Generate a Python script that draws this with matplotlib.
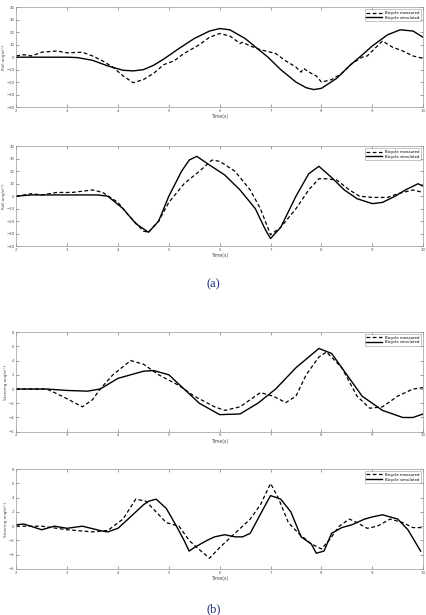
import numpy as np
import matplotlib.pyplot as plt

# (a) roll angle, first run
t1_sim = [2, 2.5, 3.0, 3.2, 3.5, 3.8, 4.1, 4.3, 4.5, 4.7, 4.9, 5.2, 5.5, 5.8, 6.0, 6.2, 6.5, 6.8, 6.95, 7.2, 7.5, 7.7, 7.85, 8.0, 8.3, 8.55, 8.75, 9.0, 9.3, 9.55, 9.8, 10]
r1_sim = [0, 0, 0, -0.3, -2.5, -7, -10.5, -11, -10, -6.5, -1.5, 7, 15, 21, 23, 22, 15, 5, 0, -10, -20, -24.5, -26, -25, -17, -7, 0, 9, 18, 22, 21, 16]
t1_mea = [2, 2.15, 2.3, 2.5, 2.8, 3.0, 3.3, 3.5, 3.7, 3.9, 4.1, 4.3, 4.5, 4.7, 4.9, 5.1, 5.3, 5.6, 5.8, 6.0, 6.2, 6.4, 6.45, 6.6, 6.8, 7.0, 7.1, 7.3, 7.5, 7.6, 7.65, 7.8, 7.9, 8.0, 8.2, 8.4, 8.6, 8.8, 8.9, 9.0, 9.2, 9.4, 9.6, 9.8, 10]
r1_mea = [1, 2, 1, 4, 5, 3.5, 4, 1, -3, -8, -15, -20.5, -18, -13, -6, -3, 3, 10, 16, 19, 17, 11, 12, 9, 6, 4, 3, -3, -8, -12, -9, -13, -15, -20, -18, -13, -5, 0, 1, 5, 13, 8, 5, 1, -1]

# (a) roll angle, second run
t2_sim = [2, 2.3, 3.0, 3.6, 3.8, 4.1, 4.35, 4.6, 4.8, 5.0, 5.25, 5.4, 5.55, 5.8, 6.1, 6.4, 6.7, 6.9, 7.0, 7.2, 7.5, 7.75, 7.95, 8.2, 8.45, 8.7, 9.0, 9.2, 9.45, 9.65, 9.9, 10]
r2_sim = [0, 1, 1, 1, 0, -10, -22, -29, -20, 0, 20, 29, 32, 25, 17, 5, -10, -27, -34, -25, 0, 18, 24, 15, 5, -2, -6, -5, 0, 5, 10, 8]
t2_mea = [2, 2.3, 2.5, 2.8, 3.1, 3.5, 3.7, 4.0, 4.2, 4.5, 4.6, 4.8, 5.0, 5.3, 5.6, 5.85, 6.0, 6.3, 6.6, 6.8, 7.0, 7.2, 7.5, 7.75, 7.95, 8.1, 8.3, 8.55, 8.75, 9.0, 9.3, 9.5, 9.8, 10]
r2_mea = [0, 2, 1, 3, 3, 5, 3, -5, -15, -28, -29, -20, -5, 10, 20, 29, 28, 20, 5, -10, -31, -25, -10, 5, 14, 14, 13, 5, 0, -1, -1, 2, 5, 3]

# (b) steering angle, first run
t3_sim = [2, 2.6, 3.0, 3.4, 3.65, 4.0, 4.5, 4.7, 5.0, 5.3, 5.6, 6.0, 6.4, 6.75, 7.1, 7.5, 7.95, 8.2, 8.5, 8.8, 9.2, 9.6, 9.8, 10]
s3_sim = [0, 0, -0.2, -0.3, 0, 1.5, 2.5, 2.6, 2, 0, -2, -3.6, -3.5, -2, 0, 3, 5.7, 5, 2, -1, -3, -4, -4, -3.5]
t3_mea = [2, 2.6, 2.9, 3.3, 3.5, 3.65, 3.9, 4.25, 4.5, 4.8, 5.2, 5.5, 5.9, 6.1, 6.4, 6.8, 7.05, 7.3, 7.5, 7.7, 7.95, 8.1, 8.4, 8.7, 8.95, 9.2, 9.5, 9.8, 10]
s3_mea = [0, 0, -1, -2.5, -1.5, 0, 2, 4, 3.5, 2, 0.5, -1, -2.5, -3, -2.5, -0.5, -1, -1.9, -1, 2, 4.5, 5.2, 3, -1, -2.7, -2.5, -1, 0, 0.2]

# (b) steering angle, second run
t4_sim = [2, 2.15, 2.5, 2.75, 3.0, 3.3, 3.7, 3.8, 4.0, 4.2, 4.5, 4.6, 4.75, 4.95, 5.15, 5.3, 5.4, 5.5, 5.75, 5.9, 6.1, 6.3, 6.45, 6.6, 6.75, 6.9, 7.0, 7.2, 7.4, 7.6, 7.8, 7.9, 8.05, 8.2, 8.4, 8.6, 8.85, 9.0, 9.2, 9.5, 9.7, 9.95]
s4_sim = [0.2, 0.3, -0.5, 0, -0.3, 0, -0.7, -0.8, -0.3, 1, 3, 3.5, 3.8, 2.5, 0, -2, -3.5, -3, -2, -1.5, -1.2, -1.5, -1.5, -1, 1, 3, 4.3, 3.8, 2, -1.5, -2.5, -3.8, -3.5, -1, -0.2, 0.2, 1, 1.3, 1.6, 1, -0.5, -3.5]
t4_mea = [2, 2.5, 3.0, 3.5, 3.8, 4.1, 4.35, 4.55, 4.75, 4.95, 5.2, 5.4, 5.55, 5.8, 6.0, 6.3, 6.6, 6.8, 7.0, 7.15, 7.35, 7.55, 7.8, 8.0, 8.15, 8.35, 8.55, 8.7, 8.9, 9.1, 9.35, 9.6, 9.8, 10]
s4_mea = [0, 0, -0.5, -0.8, -0.6, 1, 3.8, 3.5, 2, 0.5, 0, -2, -3, -4.5, -3, -1, 1, 3, 6, 4, 0.5, -1, -2.5, -3.2, -2, 0, 1, 0.5, -0.3, 0, 1, 0.5, -0.2, -0.2]

panels = [
    (t1_mea, r1_mea, t1_sim, r1_sim, "Roll angle(°)", (-40, 40), np.arange(-40, 41, 10)),
    (t2_mea, r2_mea, t2_sim, r2_sim, "Roll angle(°)", (-40, 40), np.arange(-40, 41, 10)),
    (t3_mea, s3_mea, t3_sim, s3_sim, "Steering angle(°)", (-6, 8), np.arange(-6, 9, 2)),
    (t4_mea, s4_mea, t4_sim, s4_sim, "Steering angle(°)", (-6, 8), np.arange(-6, 9, 2)),
]
bottoms = [0.826, 0.600, 0.298, 0.075]
legend_names = [("Bicycle measured", "Bicycle simulated")] * 4

fig = plt.figure(figsize=(4.27, 6.15), dpi=100)
for (tm, ym, ts, ys, ylab, ylim, yt), b, names in zip(panels, bottoms, legend_names):
    ax = fig.add_axes([0.038, b, 0.953, 0.162])
    ax.plot(tm, ym, color="k", ls=(0, (3, 2)), lw=0.9, label=names[0])
    ax.plot(ts, ys, color="k", ls="-", lw=1.0, label=names[1])
    ax.set_xlim(2, 10)
    ax.set_ylim(*ylim)
    ax.set_xticks(range(2, 11))
    ax.set_yticks(yt)
    ax.tick_params(direction="in", length=2, width=0.4, labelsize=2.8, colors="0.35",
                   top=True, right=True, pad=1.2)
    for s in ax.spines.values():
        s.set_color("0.6")
        s.set_linewidth(0.5)
    ax.set_xlabel("Time(s)", fontsize=3.3, color="0.3", labelpad=1)
    ax.set_ylabel(ylab, fontsize=3.0, color="0.3", labelpad=0.5)
    leg = ax.legend(loc="upper right", fontsize=2.8, frameon=True, fancybox=False,
                    handlelength=4, borderpad=0.4, labelspacing=0.2, edgecolor="0.5")
    leg.get_frame().set_linewidth(0.4)

fig.text(0.5, 0.537, "(a)", ha="center", va="center", fontsize=9, color="#1f2a80",
         family="Liberation Serif")
fig.text(0.5, 0.01, "(b)", ha="center", va="center", fontsize=9, color="#1f2a80",
         family="Liberation Serif")

plt.savefig("out.png", dpi=100)
